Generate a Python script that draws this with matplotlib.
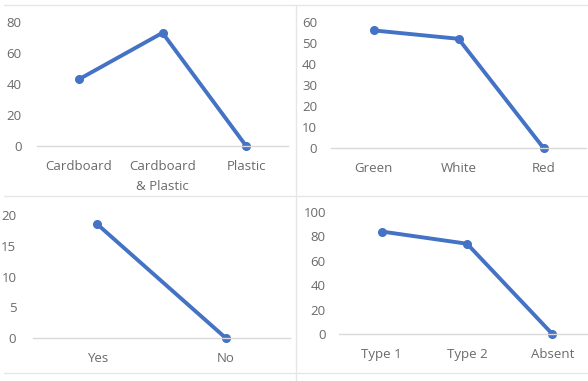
import matplotlib.pyplot as plt
from matplotlib.lines import Line2D

packaging = ['Cardboard', 'Cardboard\n& Plastic', 'Plastic']
packaging_vals = [43, 73, 0]

colours = ['Green', 'White', 'Red']
colour_vals = [56, 52, 0]

answers = ['Yes', 'No']
answer_vals = [18.5, 0]

types = ['Type 1', 'Type 2', 'Absent']
type_vals = [84, 74, 0]

W, H = 588, 381
fig = plt.figure(figsize=(W / 100, H / 100), dpi=100)
plt.rcParams['font.family'] = ['Open Sans', 'DejaVu Sans']

line_col = '#4472C4'
text_col = '#6A6A6A'
axis_col = '#D9D9D9'


def panel(rect, cats, vals, ymax, ystep, ypad):
    # rect given in pixels: left, top, right, bottom of plotting area
    l, t, r, b = rect
    ax = fig.add_axes([l / W, 1 - b / H, (r - l) / W, (b - t) / H])
    x = list(range(len(cats)))
    ax.plot(x, vals, color=line_col, lw=2.8, marker='o', ms=5.5,
            solid_capstyle='round', clip_on=False)
    ax.set_xlim(-0.5, len(cats) - 0.5)
    ax.set_ylim(0, ymax)
    ax.set_yticks(range(0, ymax + 1, ystep))
    ax.set_xticks(x)
    ax.set_xticklabels(cats, linespacing=1.75)
    for s in ['top', 'right', 'left']:
        ax.spines[s].set_visible(False)
    ax.spines['bottom'].set_color(axis_col)
    ax.spines['bottom'].set_linewidth(1)
    ax.tick_params(length=0, labelsize=9.5, colors=text_col)
    ax.tick_params(axis='y', pad=ypad)
    ax.tick_params(axis='x', pad=10)
    ax.patch.set_alpha(0)
    return ax


panel((37, 22, 288, 146), packaging, packaging_vals, 80, 20, 11)
panel((331, 22, 586, 148), colours, colour_vals, 60, 10, 10)
panel((33, 215, 290, 338), answers, answer_vals, 20, 5, 12)
panel((339, 212, 595, 334), types, type_vals, 100, 20, 9.5)

# light frame lines separating the four charts
frame = '#E6E6E6'
for xs, ys in [((296, 296), (5, 381)), ((4, 588), (196, 196)),
               ((4, 588), (5, 5)), ((4, 588), (373, 373))]:
    fig.add_artist(Line2D([x / W for x in xs], [1 - y / H for y in ys],
                          color=frame, lw=1))

fig.savefig('out.png', dpi=100)
